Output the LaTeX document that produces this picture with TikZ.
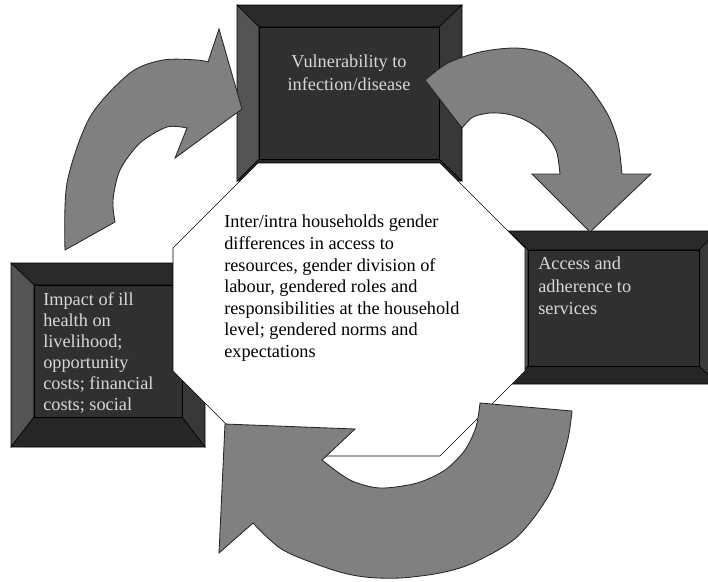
\documentclass[tikz,border=0pt]{standalone}
\usepackage{fontspec}
\setmainfont{Liberation Serif}
\usepackage{tikz}

\begin{document}
\begin{tikzpicture}[
  x=0.025cm, y=-0.025cm,
  frame/.style={draw=black, line width=0.4pt},
  arrowshape/.style={fill=black!50, draw=black!85, line width=0.6pt},
  octa/.style={fill=white, draw=black, line width=0.4pt},
  boxtext/.style={text=black!15, inner sep=0pt, align=left, font=\fontsize{13}{16}\selectfont},
  midtext/.style={text=black, inner sep=0pt, align=left, font=\fontsize{13}{15.3}\selectfont},
]
\clip (0,0) rectangle (708,581);
% bevelled boxes
\foreach \a/\b/\c/\d/\e/\f/\g/\h in {237/5/462/181/259/27/439/159,
    11/263/205/447/34/285/182/417, 509/231/717/384/528/250/699/366}{
  \filldraw[frame, fill=black!84] (\a,\b) -- (\c,\b) -- (\g,\f) -- (\e,\f) -- cycle;
  \filldraw[frame, fill=black!67] (\a,\b) -- (\e,\f) -- (\e,\h) -- (\a,\d) -- cycle;
  \filldraw[frame, fill=black!78] (\c,\b) -- (\c,\d) -- (\g,\h) -- (\g,\f) -- cycle;
  \filldraw[frame, fill=black!85] (\a,\d) -- (\e,\h) -- (\g,\h) -- (\c,\d) -- cycle;
  \filldraw[frame, fill=black!81] (\e,\f) rectangle (\g,\h);
}
% centre octagon
\filldraw[octa] (258,163) -- (440,163) -- (525,248) -- (525,371) -- (440,456)
  -- (258,456) -- (173,371) -- (173,248) -- cycle;
% texts
\node[boxtext, align=center, anchor=north] (vuln) at (349,55)
  {Vulnerability to\\infection/disease};
\node[boxtext, anchor=north west, font=\fontsize{13}{15}\selectfont] (impact) at (43,292)
  {Impact of ill\\health on\\livelihood;\\opportunity\\costs; financial\\costs; social};
\node[boxtext, anchor=north west] (access) at (538,257)
  {Access and\\adherence to\\services};
\node[midtext, anchor=north west] (centre) at (224,215)
  {Inter/intra households gender\\differences in access to\\resources, gender division of\\labour, gendered roles and\\responsibilities at the household\\level; gendered norms and\\expectations};
% upper left arrow
\filldraw[arrowshape] plot[smooth] coordinates {(65,250) (67,183) (90,117) (130,73) (163,60) (197,60) (208,62)}
  -- (219,29) -- (242,109) -- (175,158) -- (187,128)
  -- plot[smooth] coordinates {(187,128) (167,127) (140,143) (120,170) (113,200) (115,222)} -- cycle;
% upper right arrow
\filldraw[arrowshape] plot[smooth] coordinates {(425,80) (448,63) (480,52) (515,48) (545,53) (570,68) (590,88) (608,115) (618,142) (622,174)}
  -- (651,174) -- (590,232) -- (532,174) -- (560,174)
  -- plot[smooth] coordinates {(560,174) (557,153) (550,140) (538,128) (523,119) (507,114) (490,113) (473,117) (462,128)} -- cycle;
% bottom arrow
\filldraw[arrowshape] plot[smooth] coordinates {(572,411) (567,443) (550,493) (517,537) (473,563) (440,573) (400,578) (365,577) (333,570) (283,550) (253,523)}
  -- (219,553) -- (225,424) -- (355,429) -- (322,460)
  -- plot[smooth] coordinates {(322,460) (350,480) (380,488) (417,483) (445,470) (465,450) (476,427) (480,403)} -- cycle;
\end{tikzpicture}
\end{document}
